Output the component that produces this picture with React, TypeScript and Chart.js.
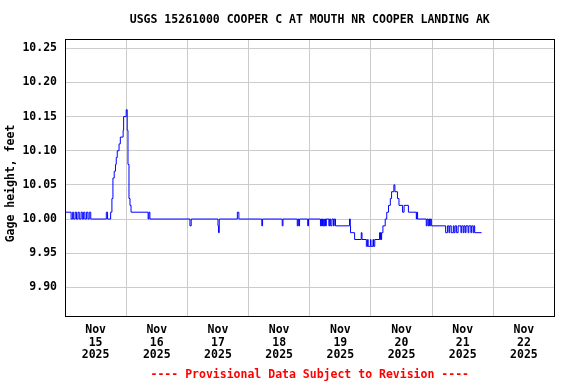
import React, { useEffect, useRef } from 'react';
import { Chart, registerables } from 'chart.js';

Chart.register(...registerables);

const TITLE = 'USGS 15261000 COOPER C AT MOUTH NR COOPER LANDING AK';
const Y_TITLE = 'Gage height, feet';
const FOOTER = '---- Provisional Data Subject to Revision ----';
const MONTH = 'Nov';
const YEAR = '2025';
const DAY_LABELS = ['15', '16', '17', '18', '19', '20', '21', '22'];
const Y_TICKS = [9.9, 9.95, 10.0, 10.05, 10.1, 10.15, 10.2, 10.25];

// Hours since Nov 15 00:00 where the reading changes, and the reading from then on
const nov15Hours = [0, 2.4, 3.0, 3.4, 4.0, 4.5, 5.1, 5.6, 6.3, 6.8, 7.3, 7.8, 8.4, 9.0, 9.5, 10.1, 16.2, 16.7, 17.9, 18.4, 18.8, 19.3, 19.8, 20.1, 20.5, 21.2, 21.7, 22.8, 23.0, 24.0];
const nov15Heights = [10.01, 10.0, 10.01, 10.0, 10.01, 10.0, 10.01, 10.0, 10.01, 10.0, 10.01, 10.0, 10.01, 10.0, 10.01, 10.0, 10.01, 10.0, 10.01, 10.03, 10.06, 10.07, 10.08, 10.09, 10.1, 10.11, 10.12, 10.13, 10.15, 10.16];

const nov16Hours = [24.4, 24.7, 25.1, 25.5, 25.9, 32.6, 32.9, 33.3];
const nov16Heights = [10.13, 10.08, 10.03, 10.02, 10.01, 10.0, 10.01, 10.0];

const nov17Hours = [49.0, 49.5, 60.0, 60.2, 60.5, 67.6, 68.2];
const nov17Heights = [9.99, 10.0, 9.99, 9.98, 10.0, 10.01, 10.0];

const nov18Hours = [77.2, 77.5, 85.2, 85.5, 91.1, 91.4, 91.7, 92.0, 95.2, 95.5];
const nov18Heights = [9.99, 10.0, 9.99, 10.0, 9.99, 10.0, 9.99, 10.0, 9.99, 10.0];

const nov19Hours = [100.2, 100.5, 100.7, 101.0, 101.2, 101.5, 101.7, 102.0, 102.2, 102.5, 103.5, 103.8, 104.2, 104.7, 105.3, 105.6, 106.1, 111.6, 111.9, 112.0, 113.6, 116.2, 116.5, 118.2, 118.7, 118.9, 119.8];
const nov19Heights = [9.99, 10.0, 9.99, 10.0, 9.99, 10.0, 9.99, 10.0, 9.99, 10.0, 9.99, 10.0, 9.99, 10.0, 9.99, 10.0, 9.99, 10.0, 9.99, 9.98, 9.97, 9.98, 9.97, 9.96, 9.97, 9.96, 9.97];

const nov20Hours = [120.0, 120.8, 121.0, 121.5, 123.4, 123.6, 123.8, 124.0, 124.2, 124.7, 125.6, 126.2, 126.9, 127.6, 128.1, 129.0, 129.4, 130.4, 131.0, 132.4, 133.0, 134.7, 137.8, 138.0, 138.3, 141.7, 142.0, 142.4, 142.7, 143.0, 143.3, 143.7];
const nov20Heights = [9.96, 9.97, 9.96, 9.97, 9.98, 9.97, 9.98, 9.97, 9.98, 9.99, 10.0, 10.01, 10.02, 10.03, 10.04, 10.05, 10.04, 10.03, 10.02, 10.01, 10.02, 10.01, 10.0, 10.01, 10.0, 9.99, 10.0, 9.99, 10.0, 9.99, 10.0, 9.99];

const nov21Hours = [149.3, 150.0, 150.6, 150.9, 151.5, 152.3, 152.6, 153.0, 153.6, 154.2, 155.3, 155.6, 156.2, 156.5, 157.0, 157.3, 158.1, 158.4, 159.2, 159.5, 160.1, 160.4, 160.7, 163.4];
const nov21Heights = [9.98, 9.99, 9.98, 9.99, 9.98, 9.99, 9.98, 9.99, 9.98, 9.99, 9.98, 9.99, 9.98, 9.99, 9.98, 9.99, 9.98, 9.99, 9.98, 9.99, 9.98, 9.99, 9.98, 9.98];

const FONT_FAMILY = '"DejaVu Sans Mono", "Liberation Mono", monospace';

export default function App() {
  const ref = useRef<HTMLCanvasElement>(null);

  useEffect(() => {
    const hours = [...nov15Hours, ...nov16Hours, ...nov17Hours, ...nov18Hours, ...nov19Hours, ...nov20Hours, ...nov21Hours];
    const heights = [...nov15Heights, ...nov16Heights, ...nov17Heights, ...nov18Heights, ...nov19Heights, ...nov20Heights, ...nov21Heights];
    const points = hours.map((h, i) => ({ x: h, y: heights[i] }));

    const framePlugin = {
      id: 'frame',
      afterDatasetsDraw(chart: any) {
        const { ctx, chartArea } = chart;
        const l = Math.floor(chartArea.left);
        const t = Math.floor(chartArea.top);
        const r = Math.floor(chartArea.right);
        const b = Math.floor(chartArea.bottom);
        ctx.save();
        ctx.strokeStyle = '#000000';
        ctx.lineWidth = 1;
        ctx.strokeRect(l + 0.5, t + 0.5, r - l, b - t);
        ctx.restore();
      },
    };

    const yTitlePlugin = {
      id: 'yTitle',
      afterDraw(chart: any) {
        const { ctx } = chart;
        ctx.save();
        ctx.translate(11, 183.5);
        ctx.rotate(-Math.PI / 2);
        ctx.font = `bold 11.5px ${FONT_FAMILY}`;
        ctx.fillStyle = '#000000';
        ctx.textAlign = 'center';
        ctx.textBaseline = 'middle';
        ctx.fillText(Y_TITLE, 0, 0);
        ctx.restore();
      },
    };

    const font = { family: FONT_FAMILY, size: 11.5, weight: 'bold' as const, lineHeight: 1.2 };

    const chart = new Chart(ref.current!, {
      type: 'line',
      data: {
        datasets: [
          {
            data: points,
            borderColor: '#0000ff',
            borderWidth: 1,
            pointRadius: 0,
            stepped: true,
            fill: false,
            tension: 0,
          },
        ],
      },
      options: {
        animation: false,
        responsive: false,
        devicePixelRatio: 1,
        events: [],
        layout: { padding: { left: 0, right: 21.5, top: 0, bottom: 0 } },
        plugins: {
          legend: { display: false },
          tooltip: { enabled: false },
          title: {
            display: true,
            text: TITLE,
            fullSize: false,
            color: '#000000',
            font,
            padding: { top: 13, bottom: 12.2 },
          },
          subtitle: {
            display: true,
            text: FOOTER,
            position: 'bottom',
            fullSize: false,
            color: '#ff0000',
            font,
            padding: { top: 0, bottom: 2 },
          },
        },
        scales: {
          x: {
            type: 'linear',
            min: 0,
            max: 192,
            afterFit: (scale: any) => {
              scale.height = 52.2;
            },
            afterBuildTicks: (scale: any) => {
              const ticks: { value: number }[] = [];
              for (let i = 0; i <= DAY_LABELS.length; i++) {
                ticks.push({ value: i * 24 });
                if (i < DAY_LABELS.length) ticks.push({ value: i * 24 + 12 });
              }
              scale.ticks = ticks;
            },
            grid: {
              drawTicks: false,
              color: (ctx: any) =>
                ctx.tick && ctx.tick.value % 24 === 0 ? '#cccccc' : 'rgba(0,0,0,0)',
              lineWidth: 1,
            },
            border: { display: false },
            ticks: {
              autoSkip: false,
              maxRotation: 0,
              minRotation: 0,
              padding: 7.7,
              color: '#000000',
              font: { family: FONT_FAMILY, size: 11.5, weight: 'bold', lineHeight: 1.1 },
              callback: (value: any) => {
                const v = Number(value);
                if (v % 24 !== 12) return '';
                const idx = Math.round((v - 12) / 24);
                return [MONTH, DAY_LABELS[idx], YEAR];
              },
            },
          },
          y: {
            type: 'linear',
            min: 9.858,
            max: 10.2636,
            afterFit: (scale: any) => {
              scale.width = 65;
            },
            afterBuildTicks: (scale: any) => {
              scale.ticks = Y_TICKS.map((v) => ({ value: v }));
            },
            grid: {
              drawTicks: false,
              color: '#cccccc',
              lineWidth: 1,
            },
            border: { display: false },
            ticks: {
              padding: 8,
              color: '#000000',
              font,
              callback: (value: any) => Number(value).toFixed(2),
            },
          },
        },
      },
      plugins: [framePlugin, yTitlePlugin],
    });

    return () => chart.destroy();
  }, []);

  return (
    <div style={{ position: 'absolute', left: 0, top: 0, width: 576, height: 384, background: '#ffffff' }}>
      <canvas ref={ref} width={576} height={384} style={{ display: 'block', width: 576, height: 384 }} />
    </div>
  );
}
